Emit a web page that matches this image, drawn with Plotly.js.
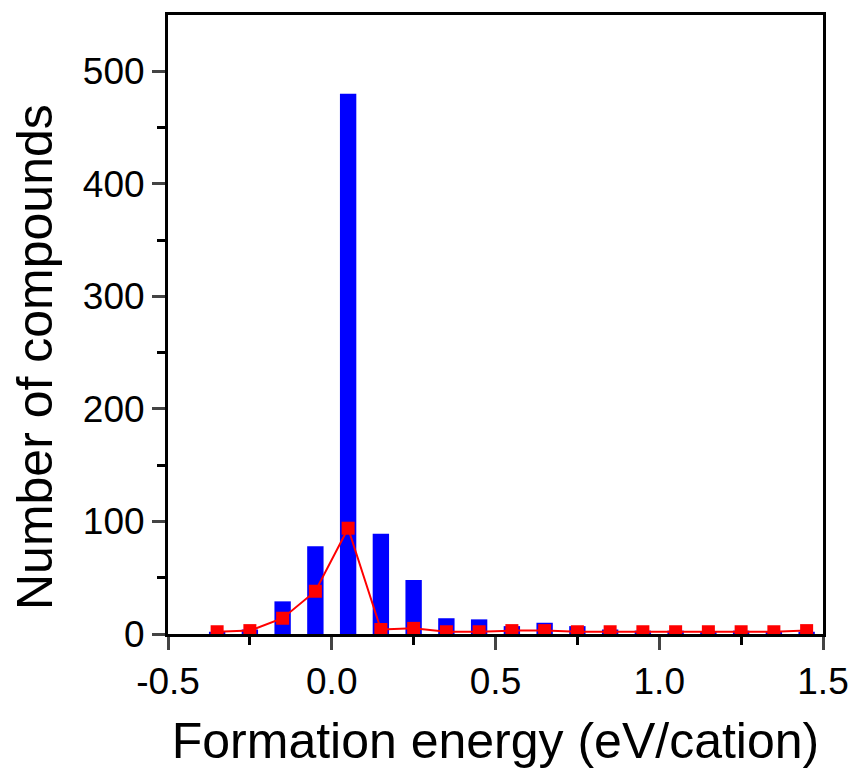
<!DOCTYPE html>
<html><head><meta charset="utf-8">
<script src="https://cdn.plot.ly/plotly-3.0.1.min.js"></script>
<style>body{margin:0;background:#fff}#chart{width:855px;height:772px}</style>
</head><body><div id="chart"></div>
<script>
const binCenters = [-0.35,-0.25,-0.15,-0.05,0.05,0.15,0.25,0.35,0.45,0.55,0.65,0.75,0.85,0.95,1.05,1.15,1.25,1.35,1.45];
const barCounts  = [2, 4, 29, 78, 480, 89, 48, 14, 13, 7, 10, 7, 4, 3, 3, 1, 3, 1, 2];
const lineCounts = [2, 3, 14, 38, 94, 4, 5, 2, 2, 3, 3, 2, 2, 2, 2, 2, 2, 2, 3];
const xTickVals = [-0.5, 0, 0.5, 1, 1.5];
const xTickText = ['-0.5','0.0','0.5','1.0','1.5'];
const yTickVals = [0,100,200,300,400,500];

const traces = [
  {type:'bar', x:binCenters, y:barCounts, width:0.05, marker:{color:'#0000ff', line:{width:0}}, hoverinfo:'x+y'},
  {type:'scatter', mode:'lines+markers', x:binCenters, y:lineCounts, line:{color:'#ff0000', width:2},
   marker:{symbol:'square', size:13, color:'#ff0000'}}
];
const fam = 'Liberation Sans, Arial, sans-serif';
const axFont = {family:fam, size:37, color:'#000'};
const layout = {
  width:855, height:772, showlegend:false,
  margin:{l:168, r:32, t:15, b:138},
  paper_bgcolor:'#fff', plot_bgcolor:'#fff',
  xaxis:{range:[-0.5,1.5], tickvals:xTickVals, ticktext:xTickText, ticks:'outside', ticklen:13, tickwidth:3,
    showline:true, linewidth:3, linecolor:'#000', mirror:true, showgrid:false, zeroline:false,
    tickfont:axFont, minor:{tickvals:[-0.25,0.25,0.75,1.25], ticks:'outside', ticklen:8, tickwidth:3, tickcolor:'#000', showgrid:false},
    title:{text:'Formation energy (eV/cation)', font:{family:fam, size:50, color:'#000'}, standoff:22}},
  yaxis:{range:[0,550], tickvals:yTickVals, ticks:'outside', ticklen:13, tickwidth:3,
    showline:true, linewidth:3, linecolor:'#000', mirror:true, showgrid:false, zeroline:false,
    tickfont:axFont, minor:{tickvals:[50,150,250,350,450], ticks:'outside', ticklen:8, tickwidth:3, tickcolor:'#000', showgrid:false}},
  annotations:[{text:'Number of compounds', textangle:-90, xref:'paper', yref:'paper', x:-0.203, y:0.4475,
    xanchor:'center', yanchor:'middle', showarrow:false, font:{family:fam, size:50, color:'#000'}}]
};
Plotly.newPlot('chart', traces, layout, {displayModeBar:false});
</script></body></html>
